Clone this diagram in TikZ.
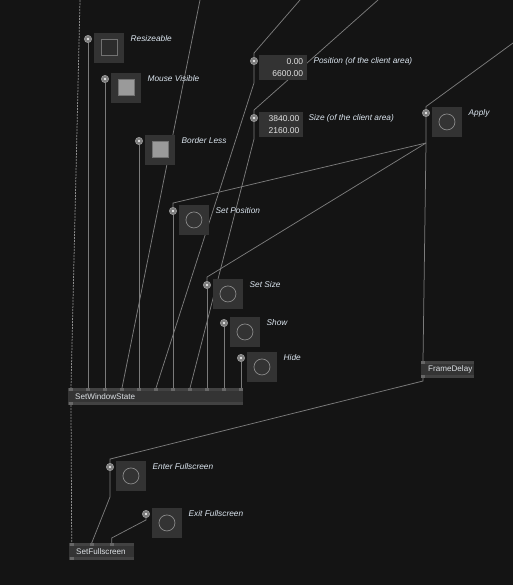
\documentclass[tikz,border=0pt]{standalone}
\usepackage{fontspec}
\setmainfont{Liberation Sans}
\usepackage{tikz}
\usetikzlibrary{backgrounds}

\definecolor{patchbg}{HTML}{141414}
\definecolor{linkgray}{HTML}{7B7B7B}
\definecolor{dashgray}{HTML}{8C8C8C}
\definecolor{boxgray}{HTML}{333333}
\definecolor{togglewell}{HTML}{2C2C2C}
\definecolor{togglerim}{HTML}{727272}
\definecolor{toggleon}{HTML}{9A9A9A}
\definecolor{ringgray}{HTML}{8A8A8A}
\definecolor{padgray}{HTML}{7E7E7E}
\definecolor{padring}{HTML}{9C9C9C}
\definecolor{opgray}{HTML}{343434}
\definecolor{opband}{HTML}{424242}
\definecolor{pingray}{HTML}{676767}
\definecolor{captiontext}{HTML}{DCE6F0}
\definecolor{optext}{HTML}{DCE0E4}
\definecolor{valuetext}{HTML}{E2E2E2}

\begin{document}
\begin{tikzpicture}[x=1pt, y=-1pt,
		link/.style={draw=linkgray, line width=0.75pt},
		delegate/.style={draw=dashgray, line width=0.75pt, dash pattern=on 2pt off 1pt},
		pad/.style={circle, fill=padgray, draw=padring, line width=0.5pt, inner sep=0pt, minimum size=7.4pt},
		widget/.style={rectangle, fill=boxgray, inner sep=0pt, minimum size=29.5pt, anchor=north west},
		ring/.style={draw=ringgray, line width=0.7pt},
		valuebox/.style={rectangle, fill=boxgray, anchor=north west, minimum height=25pt, inner ysep=0pt, align=right, text=valuetext, font=\fontsize{8.5}{12}\selectfont},
		caption/.style={anchor=west, inner sep=0pt, text=captiontext, font=\fontsize{8.3}{9}\selectfont\itshape},
		opnode/.style={rectangle, fill=opgray, anchor=north west, inner xsep=7pt, inner ysep=0pt, minimum height=17pt, align=left, text=optext, font=\fontsize{8.1}{9}\selectfont}
	]
	\useasboundingbox (0,0) rectangle (513,585);
	\foreach \name/\x/\y/\well/\lbl in {resizeable/88/39/togglewell/Resizeable, mousevisible/105/79/toggleon/Mouse Visible, borderless/139/141/toggleon/Border Less}
	{
		\node[widget] (\name-box) at ({\x+6},{\y-6}) {};
		\filldraw[fill=\well, draw=togglerim, line width=0.9pt] ([xshift=-8pt,yshift=-8pt]\name-box.center) rectangle ([xshift=8pt,yshift=8pt]\name-box.center);
		\node[pad] (\name) at (\x,\y) {};
		\fill[white] (\name) circle [radius=1.1];
		\node[caption] (\name-text) at ({\x+42.5},\y) {\lbl};
	}
	\foreach \name/\x/\y/\lbl in {setposition/173/211/Set Position, setsize/207/285/Set Size, show/224/323/Show, hide/241/358/Hide, apply/426/113/Apply, enterfs/110/467/Enter Fullscreen, exitfs/146/514/Exit Fullscreen}
	{
		\node[widget] (\name-box) at ({\x+6},{\y-6}) {};
		\draw[ring] (\name-box.center) circle [radius=8];
		\node[pad] (\name) at (\x,\y) {};
		\fill[white] (\name) circle [radius=1.1];
		\node[caption] (\name-text) at ({\x+42.5},\y) {\lbl};
	}
	\node[pad] (position) at (254,61) {};
	\fill[white] (position) circle [radius=1.1];
	\node[valuebox, text width=40pt, inner xsep=4pt] (position-box) at (259,55) {0.00\\6600.00};
	\node[caption] (position-text) at (313.3,61) {Position (of the client area)};
	\node[pad] (size) at (254,118) {};
	\fill[white] (size) circle [radius=1.1];
	\node[valuebox, text width=36.4pt, inner xsep=3.8pt] (size-box) at (259,112) {3840.00\\2160.00};
	\node[caption] (size-text) at (308.3,118) {Size (of the client area)};

	\node[opnode, text width=161pt] (sws) at (68,388) {SetWindowState};
	\fill[opband] (sws.north west) rectangle ([yshift=-3pt]sws.north east);
	\fill[opband] ([yshift=3pt]sws.south west) rectangle (sws.south east);
	\foreach \k in {0,...,10}
	{
		\coordinate (sws-in\k) at ({71+17*\k},388);
		\fill[pingray] ([xshift=-2pt]sws-in\k) rectangle ++(4,3);
	}
	\coordinate (sws-out) at (71,405);
	\fill[pingray] ([xshift=-2pt]sws-out) rectangle ++(4,-3);

	\node[opnode, text width=39pt] (fd) at (421,361) {FrameDelay};
	\fill[opband] (fd.north west) rectangle ([yshift=-3pt]fd.north east);
	\fill[opband] ([yshift=3pt]fd.south west) rectangle (fd.south east);
	\coordinate (fd-in) at (423,361);
	\coordinate (fd-out) at (423,378);
	\fill[pingray] ([xshift=-2pt]fd-in) rectangle ++(4,3);
	\fill[pingray] ([xshift=-2pt]fd-out) rectangle ++(4,-3);

	\node[opnode, text width=51pt] (sfs) at (69,543) {SetFullscreen};
	\fill[opband] (sfs.north west) rectangle ([yshift=-3pt]sfs.north east);
	\fill[opband] ([yshift=3pt]sfs.south west) rectangle (sfs.south east);
	\foreach \k in {0,1,2}
	{
		\coordinate (sfs-in\k) at ({71.7+20*\k},543);
		\fill[pingray] ([xshift=-2pt]sfs-in\k) rectangle ++(4,3);
	}
	\coordinate (sfs-out) at (71.7,560);
	\fill[pingray] ([xshift=-2pt]sfs-out) rectangle ++(4,-3);

	\begin{pgfonlayer}{background}
		\fill[patchbg] (0,0) rectangle (513,585);
		\coordinate (delegate-src) at (80,0);
		\coordinate (state-src) at (200,0);
		\coordinate (position-src) at (300,0);
		\coordinate (size-src) at (378,0);
		\coordinate (apply-src) at (513,43);
		\coordinate (apply-split) at (426,143);
		\draw[delegate] (delegate-src) -- (sws-in0);
		\draw[delegate] (sws-out) -- (sfs-in0);
		\foreach \name/\k in {resizeable/1, mousevisible/2, borderless/4, setposition/6, setsize/8, show/9, hide/10}
			\draw[link] (\name.south) -- (sws-in\k);
		\draw[link] (state-src) -- (sws-in3);
		\draw[link] (position-src) -- ([yshift=4pt]position.north) -- (position.north);
		\draw[link] (position.south) -- ([yshift=-18pt]position.south) -- (sws-in5);
		\draw[link] (size-src) -- ([yshift=4pt]size.north) -- (size.north);
		\draw[link] (size.south) -- ([yshift=-17pt]size.south) -- (sws-in7);
		\draw[link] (apply-src) -- ([yshift=2.5pt]apply.north) -- (apply.north);
		\draw[link] (apply.south) -- (apply-split) -- (fd-in);
		\draw[link] (apply-split) -- ([yshift=4pt]setposition.north) -- (setposition.north);
		\draw[link] (apply-split) -- ([yshift=4pt]setsize.north) -- (setsize.north);
		\draw[link] (fd-out) -- ([yshift=-3pt]fd-out) -- ([yshift=4pt]enterfs.north) -- (enterfs.north);
		\draw[link] (enterfs.south) -- ([yshift=-26pt]enterfs.south) -- (sfs-in1);
		\draw[link] (exitfs.south) -- ([yshift=-2pt]exitfs.south) -- ([yshift=5pt]sfs-in2) -- (sfs-in2);
	\end{pgfonlayer}
\end{tikzpicture}
\end{document}
